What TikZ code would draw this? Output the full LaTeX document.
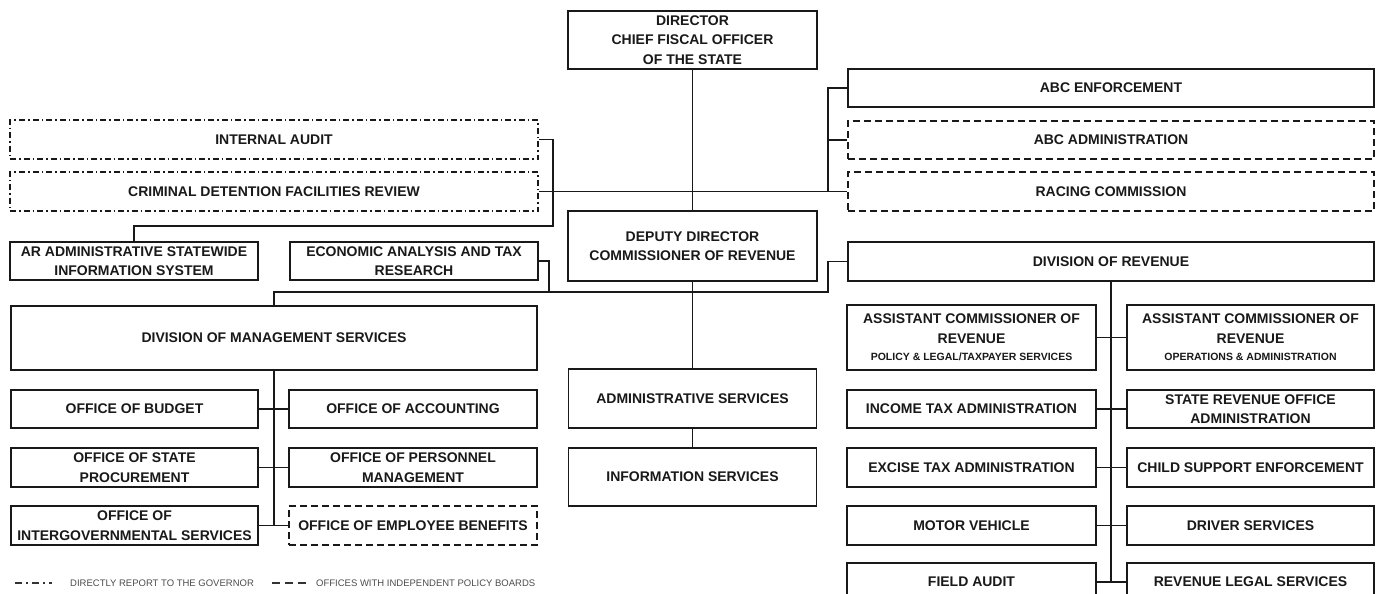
\documentclass[tikz,border=0pt]{standalone}
\usepackage{fontspec}
\setmainfont{Liberation Sans}
\begin{document}
\begin{tikzpicture}[x=1pt, y=-1pt,
		office/.style={draw=black!90, line width=1.8pt, fill=white, inner sep=1pt, align=center,
			text=black!90, font=\bfseries\fontsize{14}{19.5}\selectfont},
		govoffice/.style={office, line width=1.6pt, dash pattern=on 6pt off 3pt on 1.5pt off 3pt},
		boardoffice/.style={office, line width=1.6pt, dash pattern=on 7pt off 4pt},
		link/.style={draw=black!90, line width=1.7pt},
		keytext/.style={anchor=west, inner sep=0pt, text=black!70, font=\fontsize{9.5}{11}\selectfont}
		]
		\useasboundingbox (0,0) rectangle (1376,594);
		\clip (0,0) rectangle (1376,594);
		
		% ---- CENTRO ----
		\node[office, minimum width=249pt, minimum height=58pt] (director) at (692.5, 40) {DIRECTOR\\CHIEF FISCAL OFFICER\\OF THE STATE};
		\node[office, minimum width=249pt, minimum height=70pt] (deputy) at (692.5, 246) {DEPUTY DIRECTOR\\COMMISSIONER OF REVENUE};
		\node[office, minimum width=248pt, minimum height=59pt] (adminserv) at (692.5, 398.5) {ADMINISTRATIVE SERVICES};
		\node[office, minimum width=248pt, minimum height=58pt] (infoserv) at (692.5, 477) {INFORMATION SERVICES};
		
		% ---- IZQUIERDA ----
		\node[govoffice, minimum width=528pt, minimum height=39pt] (audit) at (274, 139.5) {INTERNAL AUDIT};
		\node[govoffice, minimum width=528pt, minimum height=39pt] (detention) at (274, 191.5) {CRIMINAL DETENTION FACILITIES REVIEW};
		\node[office, minimum width=248pt, minimum height=38pt] (aasis) at (134, 261) {AR ADMINISTRATIVE STATEWIDE\\INFORMATION SYSTEM};
		\node[office, minimum width=248pt, minimum height=38pt] (econ) at (414, 261) {ECONOMIC ANALYSIS AND TAX\\RESEARCH};
		\node[office, minimum width=526pt, minimum height=64pt] (mgmt) at (274, 338) {DIVISION OF MANAGEMENT SERVICES};
		
		\node[office, minimum width=247pt, minimum height=38pt] (budget) at (134.5, 409) {OFFICE OF BUDGET};
		\node[office, minimum width=248pt, minimum height=38pt] (accounting) at (413, 409) {OFFICE OF ACCOUNTING};
		\node[office, minimum width=247pt, minimum height=39pt] (procure) at (134.5, 467.5) {OFFICE OF STATE\\PROCUREMENT};
		\node[office, minimum width=248pt, minimum height=39pt] (personnel) at (413, 467.5) {OFFICE OF PERSONNEL\\MANAGEMENT};
		\node[office, minimum width=247pt, minimum height=39pt] (intergov) at (134.5, 525.5) {OFFICE OF\\INTERGOVERNMENTAL SERVICES};
		\node[boardoffice, minimum width=248pt, minimum height=39pt] (benefits) at (413, 525.5) {OFFICE OF EMPLOYEE BENEFITS};
		
		% ---- DERECHA ----
		\node[office, minimum width=526pt, minimum height=38pt] (abcenf) at (1111, 88) {ABC ENFORCEMENT};
		\node[boardoffice, minimum width=526pt, minimum height=38pt] (abcadmin) at (1111, 140) {ABC ADMINISTRATION};
		\node[boardoffice, minimum width=526pt, minimum height=39pt] (racing) at (1111, 191.5) {RACING COMMISSION};
		\node[office, minimum width=526pt, minimum height=39pt] (revenue) at (1111, 261.5) {DIVISION OF REVENUE};
		
		\node[office, minimum width=249pt, minimum height=65pt] (asstpolicy) at (971.5, 337.5) {ASSISTANT COMMISSIONER OF\\REVENUE\\[-2pt]{\fontsize{10.5}{12}\selectfont POLICY \& LEGAL/TAXPAYER SERVICES}};
		\node[office, minimum width=247pt, minimum height=65pt] (asstops) at (1250.5, 337.5) {ASSISTANT COMMISSIONER OF\\REVENUE\\[-2pt]{\fontsize{10.5}{12}\selectfont OPERATIONS \& ADMINISTRATION}};
		\node[office, minimum width=249pt, minimum height=38pt] (income) at (971.5, 409) {INCOME TAX ADMINISTRATION};
		\node[office, minimum width=247pt, minimum height=38pt] (sro) at (1250.5, 409) {STATE REVENUE OFFICE\\ADMINISTRATION};
		\node[office, minimum width=249pt, minimum height=39pt] (excise) at (971.5, 467.5) {EXCISE TAX ADMINISTRATION};
		\node[office, minimum width=247pt, minimum height=39pt] (childsup) at (1250.5, 467.5) {CHILD SUPPORT ENFORCEMENT};
		\node[office, minimum width=249pt, minimum height=39pt] (motor) at (971.5, 525.5) {MOTOR VEHICLE};
		\node[office, minimum width=247pt, minimum height=39pt] (driver) at (1250.5, 525.5) {DRIVER SERVICES};
		\node[office, minimum width=249pt, minimum height=38pt] (fieldaudit) at (971.5, 582) {FIELD AUDIT};
		\node[office, minimum width=247pt, minimum height=38pt] (revlegal) at (1250.5, 582) {REVENUE LEGAL SERVICES};
		
		% ---- LINEAS ----
		\path[link] (director.south) -- (deputy.north);
		\path[link] (deputy.south) -- (adminserv.north);
		\path[link] (adminserv.south) -- (infoserv.north);
		\path[link] (detention.east) -- (racing.west);
		\path[link] (abcenf.west) -| (828, 191.5);
		\path[link] (abcadmin.west) -- (828, 140);
		\path[link] (audit.east) -| (553, 226) -| (aasis.north);
		\path[link] (revenue.west) -| (828, 292) -| (mgmt.north);
		\path[link] (econ.east) -| (549, 292);
		
		\path[link] (mgmt.south) -- (mgmt.south |- intergov.east);
		\path[link] (budget.east) -- (accounting.west);
		\path[link] (procure.east) -- (personnel.west);
		\path[link] (intergov.east) -- (benefits.west);
		
		\path[link] (revenue.south) -- (revenue.south |- fieldaudit.east);
		\path[link] (asstpolicy.east) -- (asstops.west);
		\path[link] (income.east) -- (sro.west);
		\path[link] (excise.east) -- (childsup.west);
		\path[link] (motor.east) -- (driver.west);
		\path[link] (fieldaudit.east) -- (revlegal.west);
		
		% ---- LEYENDA ----
		\coordinate (govkeyA) at (15, 583);
		\coordinate (govkeyB) at (52, 583);
		\coordinate (boardkeyA) at (272, 583);
		\coordinate (boardkeyB) at (307, 583);
		\draw[line width=1.5pt, black!80, dash pattern=on 7pt off 4pt on 2pt off 4pt] (govkeyA) -- (govkeyB);
		\draw[line width=1.5pt, black!80, dash pattern=on 8pt off 5pt] (boardkeyA) -- (boardkeyB);
		\node[keytext] (govkey) at (70, 583) {DIRECTLY REPORT TO THE GOVERNOR};
		\node[keytext] (boardkey) at (316, 583) {OFFICES WITH INDEPENDENT POLICY BOARDS};
		
	\end{tikzpicture}
\end{document}
